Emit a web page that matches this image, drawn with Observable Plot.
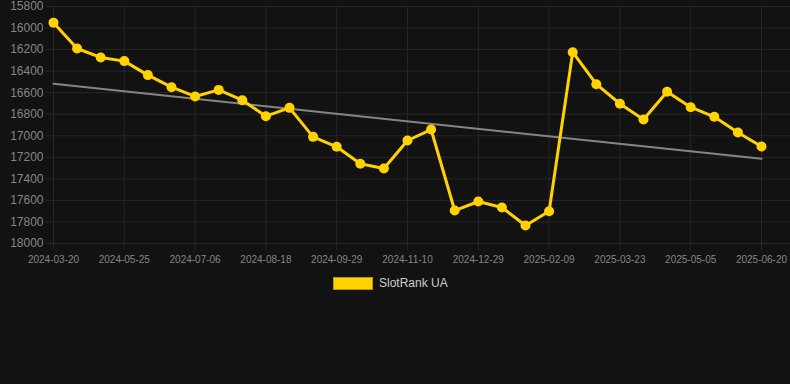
<!DOCTYPE html>
<html><head><meta charset="utf-8">
<script src="https://cdn.jsdelivr.net/npm/d3@7"></script>
<script src="https://cdn.jsdelivr.net/npm/@observablehq/plot@0.6"></script>
<style>
html,body{margin:0;padding:0;background:#121212;}
#chart{position:relative;width:790px;height:384px;font-family:"Liberation Sans",Arial,Helvetica,sans-serif;}
#chart svg g[aria-label="y-axis tick label"]{font-size:12px;}
#chart svg g[aria-label="x-axis tick label"]{font-size:10px;}
#legend{position:absolute;left:333px;top:277px;display:flex;align-items:center;font-size:12px;color:#cccccc;line-height:13px;}
#legend .sw{width:38px;height:11px;background:#FFD200;border:1px solid #b89600;margin-right:6px;}
</style></head><body>
<div id="chart"><div id="legend"><span class="sw"></span><span id="lname"></span></div></div>
<script>
const seriesName = "SlotRank UA";
const values = [15950, 16190, 16273, 16307, 16437, 16549, 16635, 16574, 16670, 16818, 16741,
  17010, 17102, 17260, 17304, 17044, 16942, 17694, 17610, 17666, 17833, 17700,
  16224, 16521, 16703, 16849, 16592, 16735, 16824, 16970, 17100];
const xTickLabels = ["2024-03-20", "2024-05-25", "2024-07-06", "2024-08-18", "2024-09-29",
  "2024-11-10", "2024-12-29", "2025-02-09", "2025-03-23", "2025-05-05", "2025-06-20"];
const yTicks = [15800, 16000, 16200, 16400, 16600, 16800, 17000, 17200, 17400, 17600, 17800, 18000];

const data = values.map((v, i) => ({i, v}));
const xTicks = xTickLabels.map((_, k) => k * 3);
const font = '"Liberation Sans",Arial,Helvetica,sans-serif';
const fmtX = i => xTickLabels[Math.round(i / 3)];
const fmtY = d => String(d);

const plot = Plot.plot({
  width: 790, height: 270,
  marginLeft: 46, marginRight: 0, marginTop: 6, marginBottom: 27,
  style: {background: "transparent", color: "#888888", fontFamily: font, fontSize: "12px"},
  x: {domain: [0, values.length - 1], insetLeft: 7, insetRight: 29},
  y: {domain: [15800, 18000], reverse: true},
  marks: [
    Plot.gridY(yTicks, {stroke: "#272727", strokeOpacity: 1}),
    Plot.gridX(xTicks, {stroke: "#272727", strokeOpacity: 1}),
    Plot.axisY(yTicks, {tickSize: 0, tickPadding: 3, fill: "#858585", label: null, tickFormat: fmtY}),
    Plot.axisX(xTicks, {tickSize: 7, tickPadding: 5, stroke: "#272727", fill: "#858585", label: null, tickFormat: fmtX}),
    Plot.linearRegressionY(data, {x: "i", y: "v", ci: 0, stroke: "#858585", strokeWidth: 2}),
    Plot.line(data, {x: "i", y: "v", stroke: "#FFD200", strokeWidth: 3}),
    Plot.dot(data, {x: "i", y: "v", r: 5, fill: "#FFD200"})
  ]
});
document.getElementById("chart").prepend(plot);
document.getElementById("lname").textContent = seriesName;
</script>
</body></html>
